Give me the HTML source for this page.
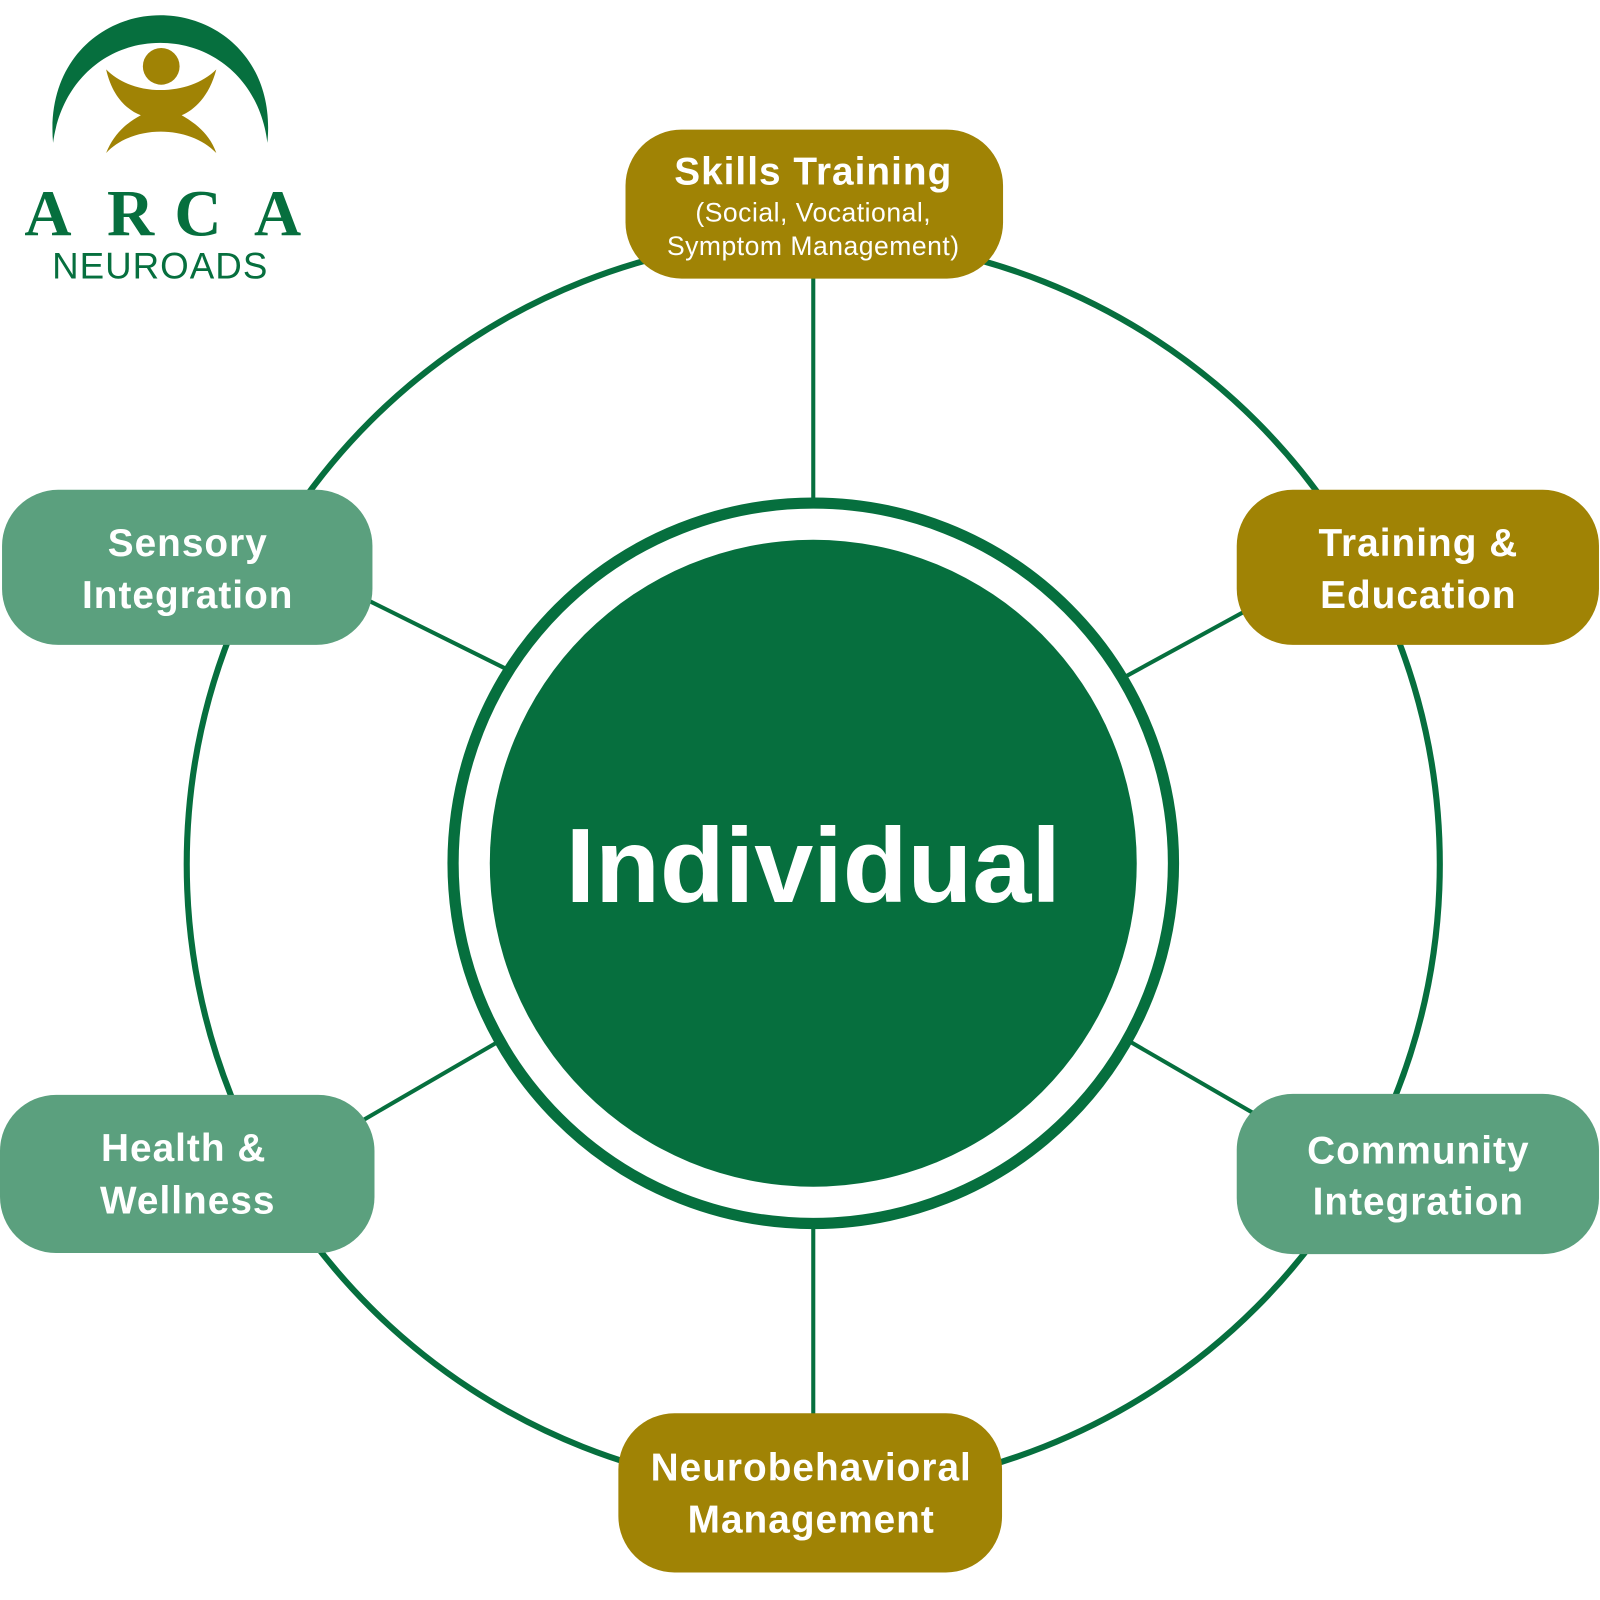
<!DOCTYPE html>
<html><head><meta charset="utf-8"><style>
html,body{margin:0;padding:0;background:#fff;width:1600px;height:1600px;overflow:hidden}
svg{display:block}
text{font-family:"Liberation Sans",sans-serif;fill:#fff;text-anchor:middle}
.b{font-weight:bold;font-size:38px;letter-spacing:1px}
.a{font-family:"Liberation Serif",serif;font-weight:bold;font-size:64px;fill:#066F3E}
</style></head><body>
<svg width="1600" height="1600" viewBox="0 0 1568 1568" xmlns="http://www.w3.org/2000/svg">
<circle cx="797" cy="847" r="614" fill="none" stroke="#066F3E" stroke-width="6"/>
<g stroke="#066F3E" stroke-width="4">
<line x1="797" y1="270" x2="797" y2="492"/>
<line x1="797" y1="1200" x2="797" y2="1390"/>
<line x1="360" y1="588" x2="497" y2="656"/>
<line x1="1222" y1="598" x2="1103" y2="663"/>
<line x1="352" y1="1100" x2="488" y2="1021"/>
<line x1="1232" y1="1093" x2="1106" y2="1020"/>
</g>
<circle cx="797" cy="846" r="353" fill="#fff" stroke="#066F3E" stroke-width="11"/>
<circle cx="797" cy="846" r="317" fill="#066F3E"/>
<text x="797" y="884" style="font-weight:bold;font-size:104px">Individual</text>

<rect x="613" y="127" width="370" height="146" rx="55" fill="#A08305"/>
<text x="797" y="181" class="b">Skills Training</text>
<text x="797" y="217" style="font-size:26px;letter-spacing:0.5px">(Social, Vocational,</text>
<text x="797" y="250" style="font-size:26px;letter-spacing:0.5px">Symptom Management)</text>

<rect x="1212" y="480" width="355" height="152" rx="55" fill="#A08305"/>
<text x="1390" y="545" class="b">Training &amp;</text>
<text x="1390" y="596" class="b">Education</text>

<rect x="2" y="480" width="363" height="152" rx="55" fill="#5BA07E"/>
<text x="184" y="545" class="b">Sensory</text>
<text x="184" y="596" class="b">Integration</text>

<rect x="0" y="1073" width="367" height="155" rx="55" fill="#5BA07E"/>
<text x="180" y="1138" class="b">Health &amp;</text>
<text x="184" y="1189" class="b">Wellness</text>

<rect x="1212" y="1072" width="355" height="157" rx="55" fill="#5BA07E"/>
<text x="1390" y="1140" class="b">Community</text>
<text x="1390" y="1190" class="b">Integration</text>

<rect x="606" y="1385" width="376" height="156" rx="55" fill="#A08305"/>
<text x="795" y="1451" class="b">Neurobehavioral</text>
<text x="795" y="1502" class="b">Management</text>

<path d="M52 140 C45 60 100 15 157 15 C214 15 270 60 262 140 C255 80 210 42 157 42 C104 42 60 80 52 140 Z" fill="#066F3E"/>
<circle cx="158" cy="65" r="18" fill="#A08305"/>
<path d="M104 68 C130 95 185 95 212 68 C205 95 190 108 178 113 C190 120 205 130 212 150 C185 122 130 122 104 150 C112 130 125 120 138 113 C125 108 110 95 104 68 Z" fill="#A08305"/>
<text x="47" y="231" class="a">A</text>
<text x="128" y="231" class="a">R</text>
<text x="194" y="231" class="a">C</text>
<text x="272" y="231" class="a">A</text>
<text x="157" y="273" style="font-size:36px;fill:#066F3E;letter-spacing:1px">NEUROADS</text>
</svg>
</body></html>
